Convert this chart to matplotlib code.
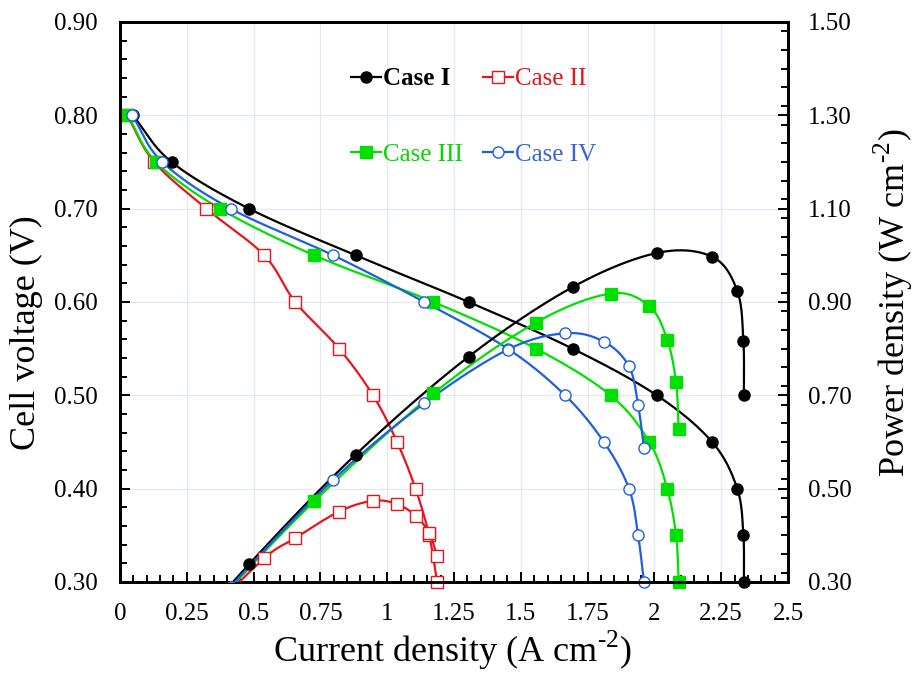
import numpy as np
import matplotlib
matplotlib.use("Agg")
import matplotlib.pyplot as plt
from matplotlib.ticker import MultipleLocator, FixedLocator, FixedFormatter
from matplotlib.lines import Line2D

plt.rcParams['font.family'] = ['Liberation Serif', 'DejaVu Serif']
plt.rcParams['mathtext.fontset'] = 'custom'
plt.rcParams['mathtext.rm'] = 'Liberation Serif'

# ---------------- data ----------------
voltage = [0.80, 0.75, 0.70, 0.65, 0.60, 0.55, 0.50, 0.45, 0.40, 0.35, 0.30]

current_I   = [0.048, 0.193, 0.483, 0.882, 1.305, 1.694, 2.009, 2.216, 2.310, 2.333, 2.335]
current_II  = [0.027, 0.128, 0.323, 0.540, 0.656, 0.820, 0.947, 1.037, 1.106, 1.157, 1.187]
current_III = [0.029, 0.135, 0.374, 0.727, 1.173, 1.557, 1.836, 1.981, 2.048, 2.081, 2.091]
current_IV  = [0.046, 0.158, 0.414, 0.798, 1.139, 1.451, 1.666, 1.811, 1.905, 1.939, 1.961]

power_I   = [0.038, 0.145, 0.338, 0.573, 0.783, 0.932, 1.005, 0.997, 0.924, 0.817, 0.700]
power_II  = [0.022, 0.096, 0.226, 0.351, 0.394, 0.451, 0.474, 0.467, 0.442, 0.405, 0.356]
power_III = [0.023, 0.101, 0.262, 0.473, 0.704, 0.856, 0.918, 0.891, 0.819, 0.728, 0.627]
power_IV  = [0.037, 0.119, 0.290, 0.519, 0.683, 0.798, 0.833, 0.815, 0.762, 0.679, 0.588]

case_labels = ['Case I', 'Case II', 'Case III', 'Case IV']

x_ticks = [0, 0.25, 0.5, 0.75, 1, 1.25, 1.5, 1.75, 2, 2.25, 2.5]
x_tick_labels = ['0', '0.25', '0.5', '0.75', '1', '1.25', '1.5', '1.75', '2', '2.25', '2.5']
yl_ticks = [0.30, 0.40, 0.50, 0.60, 0.70, 0.80, 0.90]
yr_ticks = [0.30, 0.50, 0.70, 0.90, 1.10, 1.30, 1.50]

# ---------------- styles ----------------
colors = ['#000000', '#e8141b', '#00e000', '#1f5ee0']
text_colors = ['#000000', '#e8141b', '#00d800', '#3a62d8']
markers = ['o', 's', 's', 'o']
faces = ['#000000', 'white', '#00e000', 'white']
msizes = [8, 8, 8, 8]

XR = (0.0, 2.5)
YL = (0.30, 0.90)
YR = (0.30, 1.50)
W_PX, H_PX = 668.0, 560.0


def smooth(x, y, xr, yr, n=24):
    """Catmull-Rom smoothing (like a spreadsheet's smoothed line) in screen space."""
    x = np.asarray(x, float)
    y = np.asarray(y, float)
    u = (x - xr[0]) / (xr[1] - xr[0]) * W_PX
    v = (y - yr[0]) / (yr[1] - yr[0]) * H_PX
    P = np.column_stack([u, v])
    P = np.vstack([2 * P[0] - P[1], P, 2 * P[-1] - P[-2]])
    out = []
    t = np.linspace(0, 1, n, endpoint=False)[:, None]
    for i in range(1, len(P) - 2):
        p0, p1, p2, p3 = P[i - 1], P[i], P[i + 1], P[i + 2]
        c1 = p1 + (p2 - p0) / 6.0
        c2 = p2 - (p3 - p1) / 6.0
        b = ((1 - t) ** 3) * p1 + 3 * ((1 - t) ** 2) * t * c1 + 3 * (1 - t) * t ** 2 * c2 + t ** 3 * p2
        out.append(b)
    out.append(P[-2][None, :])
    B = np.vstack(out)
    xs = B[:, 0] / W_PX * (xr[1] - xr[0]) + xr[0]
    ys = B[:, 1] / H_PX * (yr[1] - yr[0]) + yr[0]
    return xs, ys


fig = plt.figure(figsize=(9.14, 6.74), dpi=100)
ax = fig.add_axes([120 / 914, 1 - 582 / 674, 668 / 914, 560 / 674])
ax2 = ax.twinx()

currents = [current_I, current_II, current_III, current_IV]
powers = [power_I, power_II, power_III, power_IV]

for i in range(4):
    xs, ys = smooth(currents[i], voltage, XR, YL)
    ax.plot(xs, ys, color=colors[i], lw=1.6, zorder=3)
    ax.plot(currents[i], voltage, ls='none', marker=markers[i], ms=msizes[i],
            mfc=faces[i], mec=colors[i], mew=1.0, clip_on=False, zorder=4)
    xs, ys = smooth(currents[i], powers[i], XR, YR)
    ax2.plot(xs, ys, color=colors[i], lw=1.6, zorder=3)
    ax2.plot(currents[i], powers[i], ls='none', marker=markers[i], ms=msizes[i],
             mfc=faces[i], mec=colors[i], mew=1.0, zorder=4)

ax.set_xlim(*XR)
ax.set_ylim(*YL)
ax2.set_ylim(*YR)

ax.xaxis.set_major_locator(FixedLocator(x_ticks))
ax.xaxis.set_major_formatter(FixedFormatter(x_tick_labels))
ax.xaxis.set_minor_locator(MultipleLocator(0.05))
ax.yaxis.set_major_locator(FixedLocator(yl_ticks))
ax.yaxis.set_major_formatter(FixedFormatter(['%.2f' % v for v in yl_ticks]))
ax.yaxis.set_minor_locator(MultipleLocator(0.02))
ax2.yaxis.set_major_locator(FixedLocator(yr_ticks))
ax2.yaxis.set_major_formatter(FixedFormatter(['%.2f' % v for v in yr_ticks]))
ax2.yaxis.set_minor_locator(MultipleLocator(0.04))

ax.grid(True, which='major', color='#e3e8f1', lw=0.9, zorder=0)
ax.set_axisbelow(True)

ax.tick_params(axis='both', which='both', direction='in', top=False, right=False,
               labelsize=18, width=1.4, color='black')
ax.tick_params(axis='y', which='major', length=7, pad=16)
ax.tick_params(axis='x', which='major', length=7, pad=15)
ax.tick_params(axis='both', which='minor', length=5)
ax2.tick_params(axis='y', which='both', direction='in', labelsize=18, width=1.4)
ax2.tick_params(axis='y', which='major', length=7, pad=14.5)
ax2.tick_params(axis='y', which='minor', length=5)

for a in (ax, ax2):
    for s in a.spines.values():
        s.set_linewidth(2.0)
        s.set_color('black')

ax.set_xlabel(r'Current density (A cm$^{\text{-2}}$)', fontsize=26)
ax.set_ylabel('Cell voltage (V)', fontsize=26)
ax2.set_ylabel(r'Power density (W cm$^{\text{-2}}$)', fontsize=26)
ax.xaxis.set_label_coords((452 - 120) / 668, (582 - 672) / 560)
ax.yaxis.set_label_coords((10 - 120) / 668, (582 - 333) / 560)
ax2.yaxis.set_label_coords((915 - 120) / 668, (582 - 303) / 560)
ax.xaxis.label.set_va('bottom')
ax.yaxis.label.set_va('top')
ax2.yaxis.label.set_va('bottom')

handles = []
for i in range(4):
    handles.append(Line2D([0], [0], color=colors[i], lw=1.6, marker=markers[i], ms=8,
                          mfc=faces[i], mec=colors[i], mew=1.0))
order = [0, 2, 1, 3]
leg = ax2.legend([handles[k] for k in order], [case_labels[k] for k in order],
                 ncol=2, frameon=False, loc='upper left',
                 bbox_to_anchor=(0.3455, 0.919), borderaxespad=0, borderpad=0,
                 fontsize=18, handlelength=1.2, handletextpad=0.1,
                 columnspacing=0.78, labelspacing=2.12)
for k, t in zip(order, leg.get_texts()):
    t.set_color(text_colors[k])
    if k == 0:
        t.set_fontweight('bold')

fig.savefig('out.png', dpi=100)
